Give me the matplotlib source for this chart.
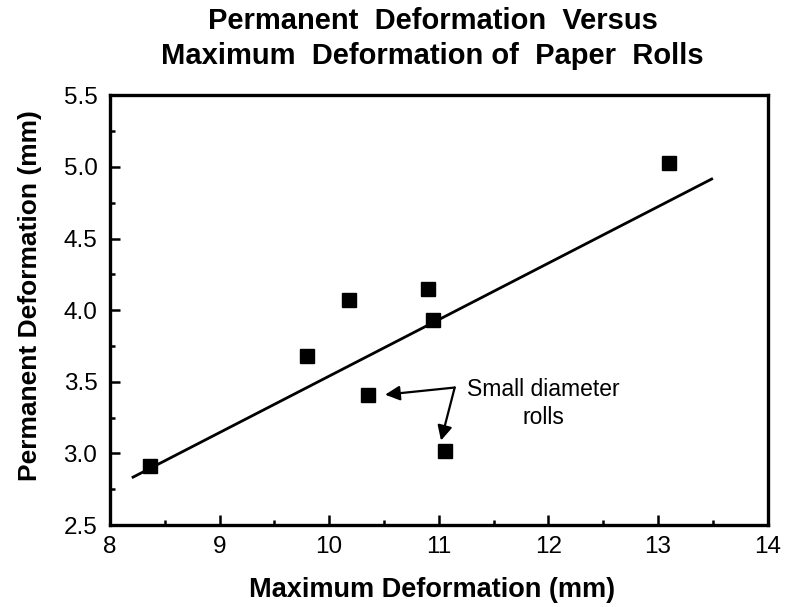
import matplotlib
matplotlib.use("Agg")
import matplotlib.pyplot as plt
from matplotlib.ticker import MultipleLocator, FormatStrFormatter

plt.rcParams['font.family'] = ['Liberation Sans', 'DejaVu Sans']

max_def = [8.37, 9.80, 10.18, 10.35, 10.90, 10.95, 11.06, 13.10]
perm_def = [2.91, 3.68, 4.07, 3.41, 4.15, 3.93, 3.02, 5.03]
fit_x = [8.20, 13.50]
fit_y = [2.83, 4.92]

fig = plt.figure(figsize=(7.85, 6.07), dpi=100)
ax = fig.add_axes([0.140, 0.135, 0.838, 0.708])

ax.plot(fit_x, fit_y, color='black', lw=2.0, solid_capstyle='butt')
ax.plot(max_def, perm_def, 's', color='black', ms=10, mec='black')

ax.set_xlim(8, 14)
ax.set_ylim(2.5, 5.5)
ax.xaxis.set_major_locator(MultipleLocator(1))
ax.xaxis.set_minor_locator(MultipleLocator(0.5))
ax.yaxis.set_major_locator(MultipleLocator(0.5))
ax.yaxis.set_minor_locator(MultipleLocator(0.25))
ax.yaxis.set_major_formatter(FormatStrFormatter('%.1f'))

for s in ax.spines.values():
    s.set_linewidth(2.4)
ax.tick_params(which='both', direction='in', width=1.8, labelsize=17.5, top=False, right=False)
ax.tick_params(which='major', length=7)
ax.tick_params(axis='x', which='major', pad=8)
ax.tick_params(axis='y', which='major', pad=9)
ax.tick_params(which='minor', length=3.5)

ax.set_xlabel('Maximum Deformation (mm)', fontsize=19.5, fontweight='bold')
ax.set_ylabel('Permanent Deformation (mm)', fontsize=19, fontweight='bold')
ax.xaxis.set_label_coords(0.49, -0.12)
ax.yaxis.set_label_coords(-0.103, 0.535)

fig.text(0.551, 0.966, 'Permanent  Deformation  Versus', ha='center', va='center',
         fontsize=21, fontweight='bold')
fig.text(0.551, 0.908, 'Maximum  Deformation of  Paper  Rolls', ha='center', va='center',
         fontsize=21, fontweight='bold')

vx, vy = 11.145, 3.46
ax.annotate('', xy=(10.51, 3.41), xytext=(vx, vy),
            arrowprops=dict(arrowstyle='-|>', color='black', lw=1.6, mutation_scale=22,
                            shrinkA=0, shrinkB=0))
ax.annotate('', xy=(11.02, 3.09), xytext=(vx, vy),
            arrowprops=dict(arrowstyle='-|>', color='black', lw=1.6, mutation_scale=22,
                            shrinkA=0, shrinkB=0))
ax.text(11.95, 3.35, 'Small diameter\nrolls', ha='center', va='center', fontsize=16.5,
        linespacing=1.3)

fig.savefig('out.png', dpi=100)
